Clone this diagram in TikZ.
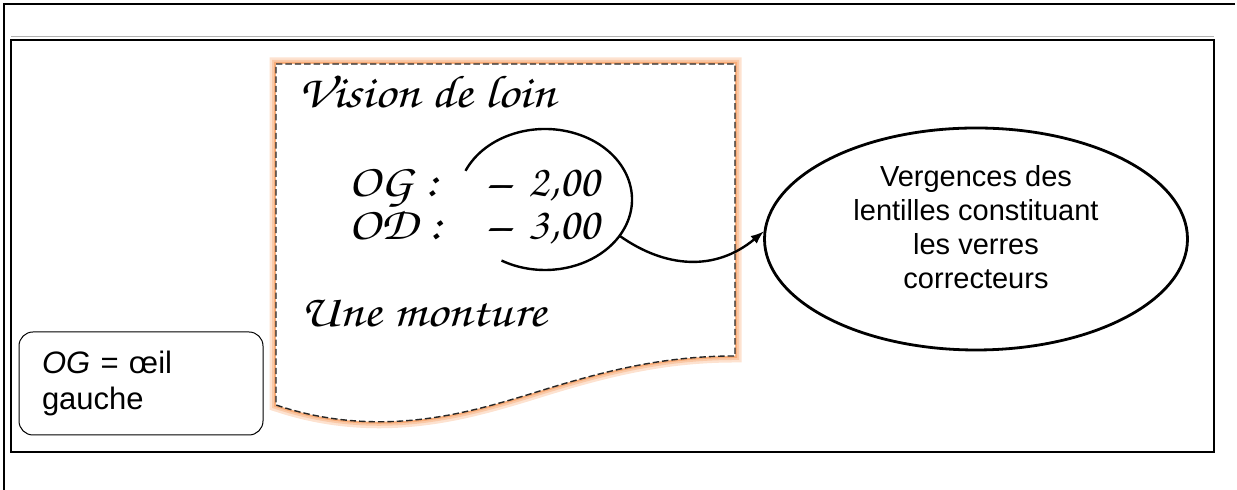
\documentclass[tikz,border=0pt]{standalone}
\usepackage[T1]{fontenc}
\usepackage{fontspec}
\usepackage{graphicx}
\usetikzlibrary{arrows,shapes.geometric}
\newfontfamily\arialfont{Liberation Sans}
\newcommand{\handfont}{\fontencoding{T1}\fontfamily{pzc}\fontseries{mb}\fontshape{it}\selectfont}
\newcommand{\wide}[1]{\scalebox{1.15}[1]{#1}}
\definecolor{glowc}{RGB}{248,172,120}

\begin{document}
\begin{tikzpicture}[x=0.5pt, y=0.5pt,
  hand/.style={anchor=base west, inner sep=0pt, font=\handfont\fontsize{23}{27}\selectfont},
  docshape/.style={draw=black!85, line width=0.7pt, dash pattern=on 3.2pt off 1.5pt, fill=white, line join=round,
    preaction={draw=glowc!35, line width=6.5pt, solid},
    preaction={draw=glowc!65, line width=4pt, solid},
    preaction={draw=glowc, line width=2pt, solid}},
  lensbox/.style={ellipse, draw, line width=1.4pt, minimum width=211.5pt, minimum height=111pt, inner sep=0pt},
  notebox/.style={draw, line width=0.5pt, rounded corners=7pt, minimum height=51.5pt, text width=99pt,
    inner xsep=11.5pt, align=left, font=\arialfont\fontsize{15.5}{18}\selectfont}]
\useasboundingbox (0,0) rectangle (1237,490);
% Frame of the cell and the inner box
\draw[line width=1.3pt] (1235,486) -- (4,486) -- (4,0);
\draw[gray!60, line width=0.5pt] (11,453) -- (1214,453);
\draw[line width=0.75pt] (11,38) rectangle (1214,450);
\draw[line width=1.3pt] (11,450) -- (1214,450);
% The prescription sheet
\draw[docshape] (276,426) -- (735,426) -- (735,134)
  .. controls (660,134) and (600,118) .. (527,95)
  .. controls (470,78) and (380,50) .. (276,85) -- cycle;
\node[hand] (vision) at (298,382) {\wide{Vision de loin}};
\node[hand] (og) at (348,293) {\wide{OG :}};
\node[hand] (ogval) at (487,293) {--\hspace{0.4em}2,00};
\node[hand] (od) at (348,250) {\wide{OD :}};
\node[hand] (odval) at (487,250) {--\hspace{0.4em}3,00};
\node[hand] (monture) at (300,163) {\wide{Une monture}};
% Open ring round the values
\coordinate (lens) at (545,290.5);
\draw[line width=1.2pt] ([shift={(156:87 and 70.5)}]lens) arc[start angle=156, end angle=-120, x radius=43.5pt, y radius=35.25pt];
\coordinate (arcout) at ([shift={(-31:87 and 70.5)}]lens);
% Ellipse with its text
\node[lensbox] (verg) at (976,251) {};
\node[align=center, inner sep=0pt, font=\arialfont\fontsize{14.5}{17}\selectfont] (vergtext) at (976,263)
  {Vergences des\\lentilles constituant\\les verres\\correcteurs};
\draw[line width=1.2pt, -latex] (arcout) .. controls (665,222) and (715,218) .. (verg.178);
% Note on the left
\node[notebox] (note) at (141,106.5) {\textit{OG} = œil\\gauche};
\end{tikzpicture}
\end{document}
